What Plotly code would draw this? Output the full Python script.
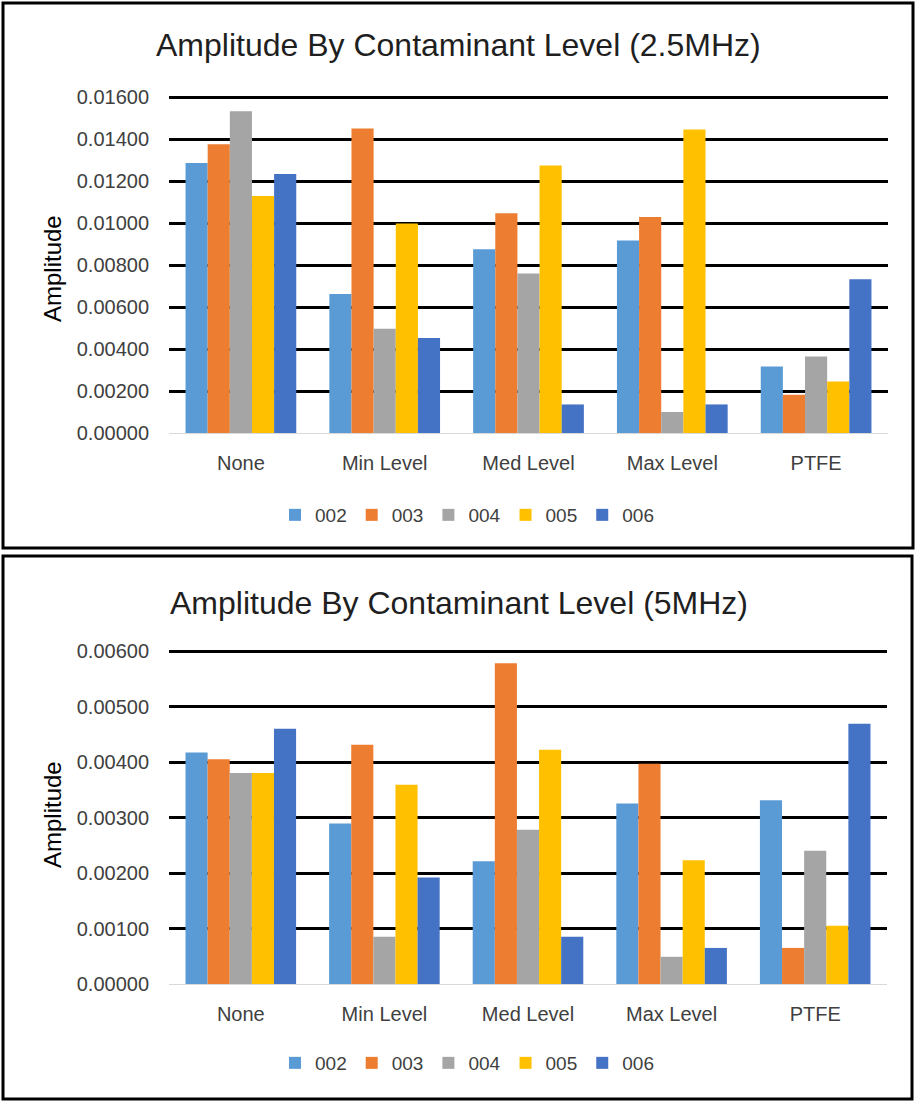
import plotly.graph_objects as go

categories = ["None", "Min Level", "Med Level", "Max Level", "PTFE"]
series_names = ["002", "003", "004", "005", "006"]
colors = ["#5B9BD5", "#ED7D31", "#A5A5A5", "#FFC000", "#4472C4"]

# 2.5 MHz values (per series, across categories)
top_002 = [0.01286, 0.00662, 0.00875, 0.00917, 0.00317]
top_003 = [0.01375, 0.01450, 0.01046, 0.01028, 0.00182]
top_004 = [0.01532, 0.00497, 0.00760, 0.00100, 0.00364]
top_005 = [0.01128, 0.00998, 0.01274, 0.01445, 0.00245]
top_006 = [0.01233, 0.00452, 0.00136, 0.00136, 0.00732]

# 5 MHz values
bot_002 = [0.00417, 0.00289, 0.00221, 0.00325, 0.00331]
bot_003 = [0.00405, 0.00431, 0.00578, 0.00397, 0.00065]
bot_004 = [0.00380, 0.00085, 0.00278, 0.00049, 0.00240]
bot_005 = [0.00380, 0.00359, 0.00422, 0.00223, 0.00105]
bot_006 = [0.00460, 0.00192, 0.00085, 0.00065, 0.00469]

top_tickvals = [0, 0.002, 0.004, 0.006, 0.008, 0.010, 0.012, 0.014, 0.016]
bot_tickvals = [0, 0.001, 0.002, 0.003, 0.004, 0.005, 0.006]

top_title = "Amplitude By Contaminant Level (2.5MHz)"
bot_title = "Amplitude By Contaminant Level (5MHz)"
y_title = "Amplitude"

W, H = 916, 1102
FONT = "Liberation Sans, Arial, sans-serif"

def px(x):
    return x / W

def py(y):
    return 1 - y / H

fig = go.Figure()

top_series = [top_002, top_003, top_004, top_005, top_006]
bot_series = [bot_002, bot_003, bot_004, bot_005, bot_006]

for name, col, vals in zip(series_names, colors, top_series):
    fig.add_trace(go.Bar(x=categories, y=vals, name=name, marker_color=col,
                         marker_line_width=0, xaxis="x", yaxis="y", legend="legend"))
for name, col, vals in zip(series_names, colors, bot_series):
    fig.add_trace(go.Bar(x=categories, y=vals, name=name, marker_color=col,
                         marker_line_width=0, xaxis="x2", yaxis="y2", legend="legend2"))

axis_common_x = dict(showgrid=False, showline=False, ticks="", automargin=False,
                     tickfont=dict(size=20, color="#404040", family=FONT),
                     ticklabelstandoff=16, fixedrange=True)

def yax(tickvals, rng, domain, anchor):
    return dict(domain=domain, anchor=anchor, range=rng, tickvals=tickvals,
                tickformat=".5f", showgrid=True, gridcolor="#000000", gridwidth=3,
                zeroline=True, zerolinecolor="#D9D9D9", zerolinewidth=1,
                showline=False, ticks="", ticklabelstandoff=19, fixedrange=True,
                automargin=False,
                tickfont=dict(size=20, color="#404040", family=FONT))

# slight headroom so the top gridline is drawn; domains adjusted to keep pixel scale
top_max = 0.01606
bot_max = 0.00602
top_top_px = 433 - (433 - 97) * top_max / 0.016
bot_top_px = 984 - (984 - 651) * bot_max / 0.006

fig.update_layout(
    width=W, height=H,
    margin=dict(l=0, r=0, t=0, b=0, autoexpand=False),
    paper_bgcolor="white", plot_bgcolor="white",
    font=dict(family=FONT),
    barmode="group", bargap=0.23, bargroupgap=0,
    xaxis=dict(domain=[px(169), px(888)], anchor="y", **axis_common_x),
    yaxis=yax(top_tickvals, [0, top_max], [py(433), py(top_top_px)], "x"),
    xaxis2=dict(domain=[px(169), px(887)], anchor="y2", **axis_common_x),
    yaxis2=yax(bot_tickvals, [0, bot_max], [py(984), py(bot_top_px)], "x2"),
    legend=dict(orientation="h", x=px(467), xanchor="center", y=py(515), yanchor="middle",
                font=dict(size=19, color="#404040", family=FONT), bgcolor="rgba(0,0,0,0)"),
    legend2=dict(orientation="h", x=px(467), xanchor="center", y=py(1063), yanchor="middle",
                 font=dict(size=19, color="#404040", family=FONT), bgcolor="rgba(0,0,0,0)"),
    showlegend=True,
)

fig.add_annotation(text=top_title, xref="paper", yref="paper", x=px(458), y=py(45),
                   xanchor="center", yanchor="middle", showarrow=False,
                   font=dict(size=32, color="#1f1f1f", family=FONT))
fig.add_annotation(text=bot_title, xref="paper", yref="paper", x=px(459), y=py(603),
                   xanchor="center", yanchor="middle", showarrow=False,
                   font=dict(size=32, color="#1f1f1f", family=FONT))
fig.add_annotation(text=y_title, xref="paper", yref="paper", x=px(52), y=py(269),
                   xanchor="center", yanchor="middle", showarrow=False, textangle=-90,
                   font=dict(size=24, color="#000000", family=FONT))
fig.add_annotation(text=y_title, xref="paper", yref="paper", x=px(52), y=py(815),
                   xanchor="center", yanchor="middle", showarrow=False, textangle=-90,
                   font=dict(size=24, color="#000000", family=FONT))

# panel borders
fig.add_shape(type="rect", xref="paper", yref="paper", x0=px(3), x1=px(913), y0=py(548), y1=py(3),
              line=dict(color="#000000", width=3), fillcolor="rgba(0,0,0,0)", layer="above")
fig.add_shape(type="rect", xref="paper", yref="paper", x0=px(3), x1=px(912), y0=py(1099), y1=py(556),
              line=dict(color="#000000", width=3), fillcolor="rgba(0,0,0,0)", layer="above")

post = ("document.body.style.margin='0';document.body.style.overflow='hidden';"
        "var d=document.getElementById('{plot_id}');d.style.position='absolute';"
        "d.style.left='0px';d.style.top='0px';")

fig.write_html("out.html", post_script=post, config={"displayModeBar": False})
